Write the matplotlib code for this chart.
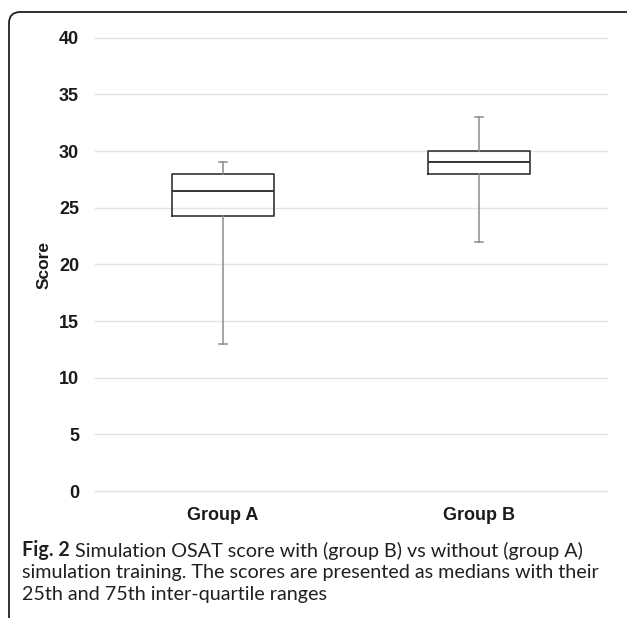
import matplotlib
matplotlib.use("Agg")
import matplotlib.pyplot as plt
from matplotlib.patches import FancyBboxPatch

categories = ["Group A", "Group B"]
medians = [26.5, 29.0]
q1 = [24.25, 28.0]
q3 = [28.0, 30.0]
whisk_lo = [13.0, 22.0]
whisk_hi = [29.0, 33.0]
yticks = [0, 5, 10, 15, 20, 25, 30, 35, 40]

caption_bold = "Fig. 2"
caption_lines = [" Simulation OSAT score with (group B) vs without (group A)",
                 "simulation training. The scores are presented as medians with their",
                 "25th and 75th inter-quartile ranges"]

W, H = 627, 618
fig = plt.figure(figsize=(W / 100, H / 100), dpi=100)
fig.patch.set_facecolor("white")

# rounded frame
frame = FancyBboxPatch((9 / W, -0.1), 1.2, 1.1 - 12 / H,
                       boxstyle="round,pad=0,rounding_size=0.018",
                       transform=fig.transFigure, fill=False,
                       edgecolor="#231f20", linewidth=1.3)
fig.patches.append(frame)

ax = fig.add_axes([95 / W, 1 - 491 / H, 512 / W, (491 - 37.7) / H])

stats = []
for i, c in enumerate(categories):
    stats.append(dict(label=c, med=medians[i], q1=q1[i], q3=q3[i],
                      whislo=whisk_lo[i], whishi=whisk_hi[i], fliers=[]))

ax.bxp(stats, positions=range(len(categories)), widths=0.40,
       showfliers=False, capwidths=0.03,
       boxprops=dict(color="#333333", linewidth=1.2),
       medianprops=dict(color="#333333", linewidth=1.4),
       whiskerprops=dict(color="#8c8c8c", linewidth=1.1),
       capprops=dict(color="#8c8c8c", linewidth=1.1))

lab_font = "Liberation Sans"
ax.set_xlim(-0.5, 1.5)
ax.set_ylim(0, 40)
ax.set_yticks(yticks)
ax.set_yticklabels([str(v) for v in yticks], fontsize=13, fontweight="bold",
                   family=lab_font, color="#1a1a1a")
ax.set_xticks(range(len(categories)))
ax.set_xticklabels(categories, fontsize=13, fontweight="bold",
                   family=lab_font, color="#1a1a1a")
ax.tick_params(axis="both", length=0)
ax.tick_params(axis="y", pad=11.5)
ax.tick_params(axis="x", pad=11.5)
for s in ax.spines.values():
    s.set_visible(False)
ax.grid(axis="y", color="#e3e3e3", linewidth=1.0)
ax.set_axisbelow(True)
for ln in ax.get_ygridlines():
    ln.set_clip_on(False)
ax.set_ylabel("Score", fontsize=12.5, fontweight="bold",
              family=lab_font, color="#1a1a1a")
ax.yaxis.set_label_coords(-(95 - 52) / 512, (491 - 265) / (491 - 37.7))

# caption: fit font size so lines span the same widths as the reference
cap_font = "Lato"
x0 = 22
targets = [592 - x0, 600 - x0, 324 - x0]
baselines = [556, 578, 600]
renderer = fig.canvas.get_renderer()
test = 10.0
widths = []
tb = fig.text(0, 0, caption_bold, fontsize=test, fontweight="bold", family=cap_font)
tr = fig.text(0, 0, caption_lines[0], fontsize=test, family=cap_font)
widths.append(tb.get_window_extent(renderer).width + tr.get_window_extent(renderer).width)
tb.remove(); tr.remove()
for s in caption_lines[1:]:
    tt = fig.text(0, 0, s, fontsize=test, family=cap_font)
    widths.append(tt.get_window_extent(renderer).width)
    tt.remove()
csize = test * sum(targets) / sum(widths)

t = fig.text(x0 / W, 1 - baselines[0] / H, caption_bold, fontsize=csize,
             fontweight="bold", family=cap_font, color="#231f20",
             va="baseline", ha="left")
ax.annotate(caption_lines[0], xy=(1, 0), xycoords=t, va="bottom", ha="left",
            fontsize=csize, family=cap_font, color="#231f20")
for s, b in zip(caption_lines[1:], baselines[1:]):
    fig.text(x0 / W, 1 - b / H, s, fontsize=csize, family=cap_font,
             color="#231f20", va="baseline", ha="left")

fig.savefig("out.png", dpi=100)
